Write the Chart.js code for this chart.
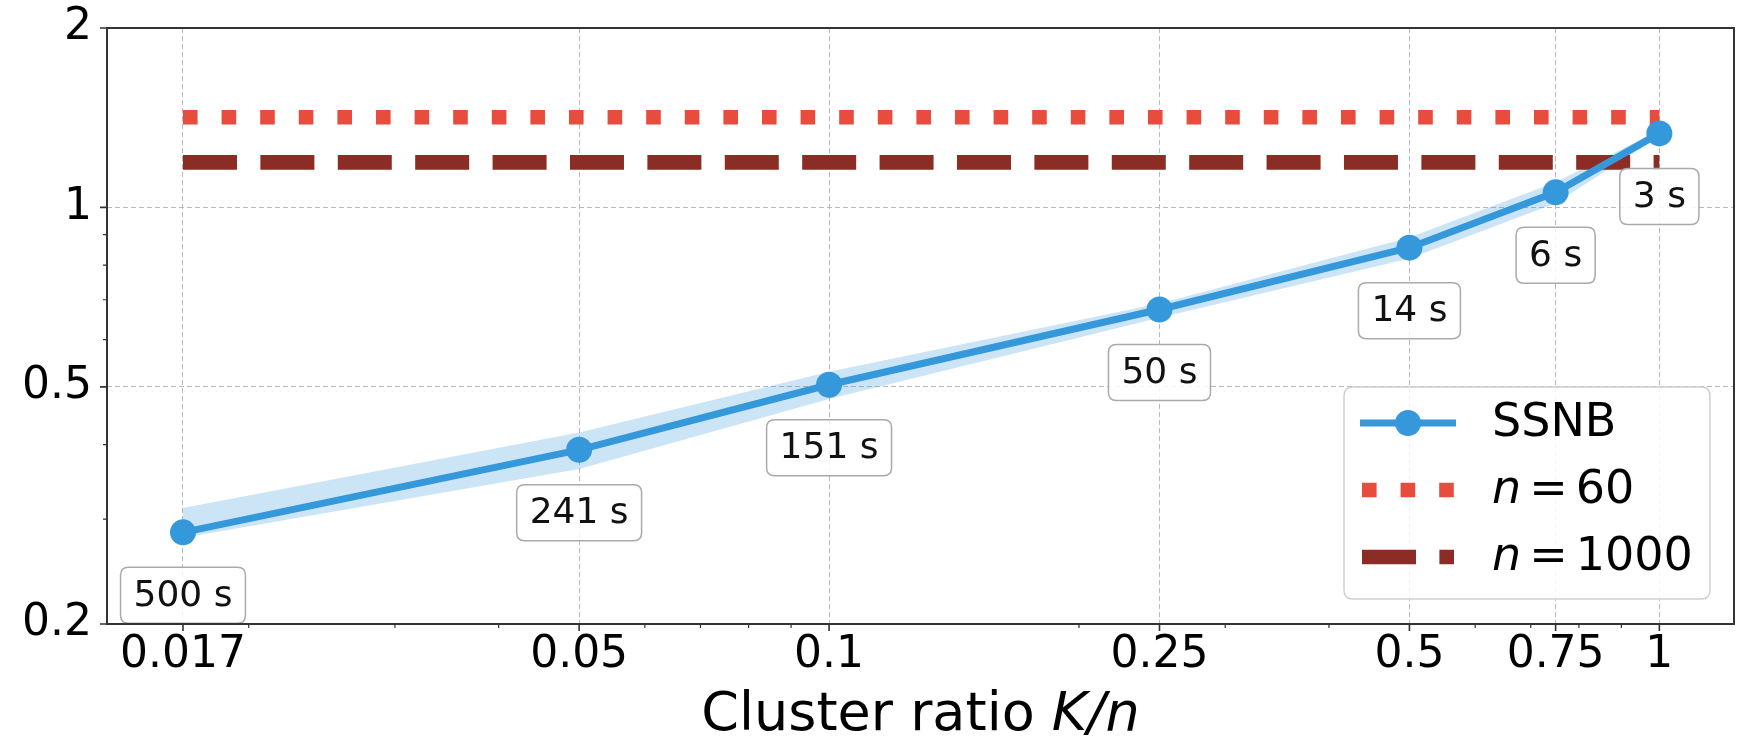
<!DOCTYPE html>
<html>
<head>
<meta charset="utf-8">
<script src="https://cdn.jsdelivr.net/npm/chart.js@4.4.0/dist/chart.umd.min.js"></script>
<style>
    html, body { margin: 0; padding: 0; background: #fff; }
</style>
</head>
<body>
<canvas id="ratioChart" width="1747" height="741"></canvas>
<script>
// cluster ratio K/n for n = 60
var ratios = [1 / 60, 0.05, 0.1, 0.25, 0.5, 0.75, 1];
var ssnbMean = [0.285, 0.392, 0.504, 0.674, 0.856, 1.06, 1.331];
var ssnbUpper = [0.313, 0.419, 0.530, 0.690, 0.890, 1.102, 1.347];
var ssnbLower = [0.279, 0.364, 0.477, 0.653, 0.821, 1.016, 1.316];
var runTimes = ['500 s', '241 s', '151 s', '50 s', '14 s', '6 s', '3 s'];
var n60Value = 1.417;
var n1000Value = 1.19;

var xTickValues = [1 / 60, 0.05, 0.1, 0.25, 0.5, 0.75, 1];
var xTickLabels = ['0.017', '0.05', '0.1', '0.25', '0.5', '0.75', '1'];
var xMinorTicks = [0.02, 0.03, 0.04, 0.06, 0.07, 0.08, 0.09, 0.2, 0.3, 0.4, 0.6, 0.7, 0.8, 0.9];
var yTickValues = [0.2, 0.5, 1, 2];
var yTickLabels = ['0.2', '0.5', '1', '2'];
var yMinorTicks = [0.3, 0.4, 0.6, 0.7, 0.8, 0.9];

var FONT = "'DejaVu Sans', sans-serif";
var BLUE = '#3498db';
var RED = '#e74c3c';
var DARKRED = '#8b2d25';
var DOT_DASH = [14.6, 24];
var LONG_DASH = [54, 23.4];

function findIndex(list, v) {
    for (var i = 0; i < list.length; i++) {
        if (Math.abs(list[i] - v) < 1e-9) return i;
    }
    return -1;
}

function points(ys) {
    return ratios.map(function (x, i) { return { x: x, y: ys[i] }; });
}

function flat(v) {
    return ratios.map(function (x) { return { x: x, y: v }; });
}

function roundRect(ctx, x, y, w, h, r) {
    ctx.beginPath();
    ctx.moveTo(x + r, y);
    ctx.lineTo(x + w - r, y);
    ctx.quadraticCurveTo(x + w, y, x + w, y + r);
    ctx.lineTo(x + w, y + h - r);
    ctx.quadraticCurveTo(x + w, y + h, x + w - r, y + h);
    ctx.lineTo(x + r, y + h);
    ctx.quadraticCurveTo(x, y + h, x, y + h - r);
    ctx.lineTo(x, y + r);
    ctx.quadraticCurveTo(x, y, x + r, y);
    ctx.closePath();
}

// run-time boxes, frame, tick marks, axis title and legend
var decorPlugin = {
    id: 'decor',
    afterDatasetsDraw: function (chart) {
        var ctx = chart.ctx;
        var meta = chart.getDatasetMeta(0);
        ctx.save();
        ctx.font = '36px ' + FONT;
        ctx.textAlign = 'center';
        ctx.textBaseline = 'middle';
        meta.data.forEach(function (pt, i) {
            var text = runTimes[i];
            var w = ctx.measureText(text).width + 26;
            var h = 56;
            var cy = pt.y + 63;
            roundRect(ctx, pt.x - w / 2, cy - h / 2, w, h, 8);
            ctx.fillStyle = 'rgba(255,255,255,0.85)';
            ctx.fill();
            ctx.lineWidth = 1.5;
            ctx.strokeStyle = '#aaaaaa';
            ctx.stroke();
            ctx.fillStyle = '#111';
            ctx.fillText(text, pt.x, cy + 1);
        });
        ctx.restore();
    },
    afterDraw: function (chart) {
        var ctx = chart.ctx;
        var area = chart.chartArea;
        var xs = chart.scales.x, ys = chart.scales.y;
        ctx.save();

        // frame
        ctx.strokeStyle = '#333';
        ctx.lineWidth = 2;
        ctx.strokeRect(area.left, area.top, area.right - area.left, area.bottom - area.top);

        // tick marks
        ctx.beginPath();
        ctx.lineWidth = 1.6;
        xTickValues.forEach(function (v) {
            var px = xs.getPixelForValue(v);
            ctx.moveTo(px, area.bottom); ctx.lineTo(px, area.bottom + 7);
        });
        yTickValues.forEach(function (v) {
            var py = ys.getPixelForValue(v);
            ctx.moveTo(area.left, py); ctx.lineTo(area.left - 7, py);
        });
        ctx.stroke();
        ctx.beginPath();
        ctx.lineWidth = 1.2;
        xMinorTicks.forEach(function (v) {
            var px = xs.getPixelForValue(v);
            ctx.moveTo(px, area.bottom); ctx.lineTo(px, area.bottom + 4);
        });
        yMinorTicks.forEach(function (v) {
            var py = ys.getPixelForValue(v);
            ctx.moveTo(area.left, py); ctx.lineTo(area.left - 4, py);
        });
        ctx.stroke();

        // x axis title with italic K/n
        var part1 = 'Cluster ratio ';
        var part2 = 'K/n';
        ctx.fillStyle = '#000';
        ctx.textBaseline = 'alphabetic';
        ctx.textAlign = 'left';
        ctx.font = '54px ' + FONT;
        var w1 = ctx.measureText(part1).width;
        ctx.font = 'italic 54px ' + FONT;
        var w2 = ctx.measureText(part2).width;
        var startX = (area.left + area.right) / 2 - (w1 + w2) / 2;
        ctx.font = '54px ' + FONT;
        ctx.fillText(part1, startX, 730);
        ctx.font = 'italic 54px ' + FONT;
        ctx.fillText(part2, startX + w1, 730);

        // legend
        var lw = 366, lh = 212;
        var lx = area.right - 24 - lw;
        var ly = area.bottom - 25 - lh;
        roundRect(ctx, lx, ly, lw, lh, 9);
        ctx.fillStyle = 'rgba(255,255,255,0.85)';
        ctx.fill();
        ctx.lineWidth = 1.5;
        ctx.strokeStyle = '#d0d0d0';
        ctx.stroke();

        var hx0 = lx + 16, hx1 = lx + 112;
        var rows = [ly + 36, ly + 103, ly + 170];

        ctx.lineCap = 'butt';
        ctx.strokeStyle = BLUE;
        ctx.lineWidth = 7;
        ctx.beginPath(); ctx.moveTo(hx0, rows[0]); ctx.lineTo(hx1, rows[0]); ctx.stroke();
        ctx.fillStyle = BLUE;
        ctx.beginPath(); ctx.arc((hx0 + hx1) / 2, rows[0], 13, 0, Math.PI * 2); ctx.fill();

        ctx.lineWidth = 14.6;
        ctx.setLineDash(DOT_DASH);
        ctx.strokeStyle = RED;
        ctx.beginPath(); ctx.moveTo(hx0 + 2, rows[1]); ctx.lineTo(hx1 - 2, rows[1]); ctx.stroke();
        ctx.setLineDash(LONG_DASH);
        ctx.strokeStyle = DARKRED;
        ctx.beginPath(); ctx.moveTo(hx0 + 2, rows[2]); ctx.lineTo(hx1 - 2, rows[2]); ctx.stroke();
        ctx.setLineDash([]);

        var tx = lx + 148;
        ctx.fillStyle = '#000';
        ctx.textBaseline = 'middle';
        ctx.font = '46px ' + FONT;
        ctx.fillText('SSNB', tx, rows[0] + 1);
        [['60', rows[1]], ['1000', rows[2]]].forEach(function (r) {
            var cx = tx;
            ctx.font = 'italic 46px ' + FONT;
            ctx.fillText('n', cx, r[1] + 1);
            cx += ctx.measureText('n').width + 8;
            ctx.font = '46px ' + FONT;
            ctx.fillText('=', cx, r[1] + 1);
            cx += ctx.measureText('=').width + 8;
            ctx.fillText(r[0], cx, r[1] + 1);
        });

        ctx.restore();
    }
};

var ctx = document.getElementById('ratioChart').getContext('2d');
var ratioChart = new Chart(ctx, {
    type: 'line',
    data: {
        datasets: [{
            label: 'SSNB',
            data: points(ssnbMean),
            borderColor: BLUE,
            borderWidth: 7,
            pointRadius: 13,
            pointHoverRadius: 13,
            pointBackgroundColor: BLUE,
            pointBorderWidth: 0,
            fill: false,
            order: 0
        }, {
            label: 'n = 60',
            data: flat(n60Value),
            borderColor: RED,
            borderWidth: 14.6,
            borderDash: DOT_DASH,
            borderCapStyle: 'butt',
            pointRadius: 0,
            fill: false,
            order: 1
        }, {
            label: 'n = 1000',
            data: flat(n1000Value),
            borderColor: DARKRED,
            borderWidth: 14.6,
            borderDash: LONG_DASH,
            borderCapStyle: 'butt',
            pointRadius: 0,
            fill: false,
            order: 2
        }, {
            label: 'upper',
            data: points(ssnbUpper),
            borderColor: 'rgba(0,0,0,0)',
            backgroundColor: 'rgba(52,152,219,0.25)',
            pointRadius: 0,
            fill: '+1',
            order: 3
        }, {
            label: 'lower',
            data: points(ssnbLower),
            borderColor: 'rgba(0,0,0,0)',
            pointRadius: 0,
            fill: false,
            order: 4
        }]
    },
    options: {
        responsive: false,
        animation: false,
        devicePixelRatio: 1,
        layout: { padding: { left: 0, top: 28, right: 8, bottom: 0 } },
        plugins: {
            legend: { display: false },
            tooltip: { enabled: false }
        },
        scales: {
            x: {
                type: 'logarithmic',
                min: 0.0135,
                max: 1.23,
                afterBuildTicks: function (axis) {
                    axis.ticks = xTickValues.concat(xMinorTicks)
                        .sort(function (a, b) { return a - b; })
                        .map(function (v) { return { value: v }; });
                },
                afterFit: function (axis) {
                    axis.height = 117;
                    axis.paddingLeft = 0;
                    axis.paddingRight = 0;
                },
                ticks: {
                    autoSkip: false,
                    maxRotation: 0,
                    padding: 5,
                    color: '#000',
                    font: { family: FONT, size: 44 },
                    callback: function (value) {
                        var i = findIndex(xTickValues, value);
                        return i >= 0 ? xTickLabels[i] : '';
                    }
                },
                grid: {
                    drawTicks: false,
                    lineWidth: 1,
                    color: function (c) {
                        return c.tick && findIndex(xTickValues, c.tick.value) >= 0 ? '#b8b8b8' : 'rgba(0,0,0,0)';
                    }
                },
                border: { display: false, dash: [5, 3] }
            },
            y: {
                type: 'logarithmic',
                min: 0.2,
                max: 2,
                afterBuildTicks: function (axis) {
                    axis.ticks = yTickValues.concat(yMinorTicks)
                        .sort(function (a, b) { return a - b; })
                        .map(function (v) { return { value: v }; });
                },
                afterFit: function (axis) {
                    axis.width = 107;
                    axis.paddingTop = 0;
                    axis.paddingBottom = 0;
                },
                ticks: {
                    autoSkip: false,
                    padding: 15,
                    color: '#000',
                    font: { family: FONT, size: 44 },
                    callback: function (value) {
                        var i = findIndex(yTickValues, value);
                        return i >= 0 ? yTickLabels[i] : '';
                    }
                },
                grid: {
                    drawTicks: false,
                    lineWidth: 1,
                    color: function (c) {
                        return c.tick && findIndex(yTickValues, c.tick.value) >= 0 ? '#b8b8b8' : 'rgba(0,0,0,0)';
                    }
                },
                border: { display: false, dash: [5, 3] }
            }
        }
    },
    plugins: [decorPlugin]
});
</script>
</body>
</html>
